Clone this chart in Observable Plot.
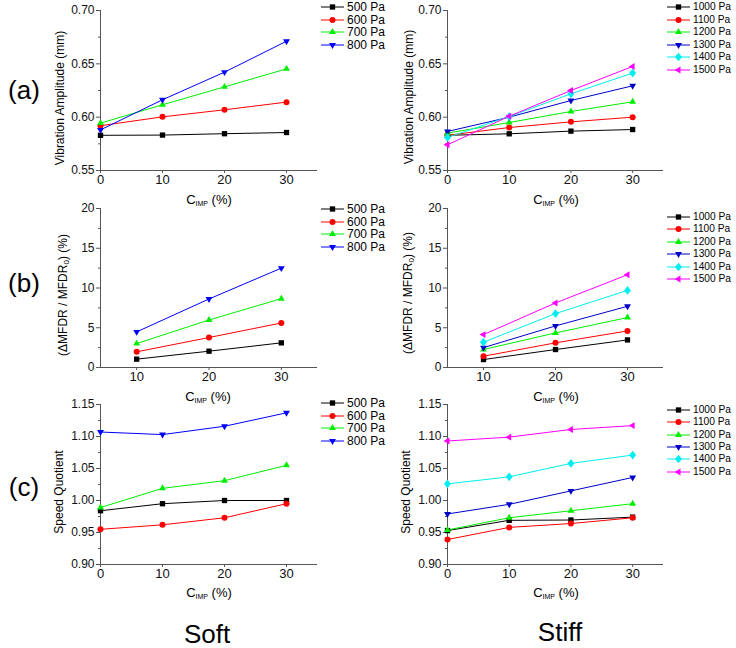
<!DOCTYPE html>
<html><head><meta charset="utf-8">
<script src="https://cdn.jsdelivr.net/npm/d3@7"></script>
<script src="https://cdn.jsdelivr.net/npm/@observablehq/plot@0.6"></script>
<style>
body{margin:0;background:#fff;}
#wrap{position:relative;width:736px;height:648px;font-family:"Liberation Sans",Arial,sans-serif;color:#000;overflow:hidden;background:#fff}
.ylab{position:absolute;white-space:nowrap;font-size:12px;line-height:14px;transform:translate(-50%,-50%) rotate(-90deg);}
.xlab{position:absolute;white-space:nowrap;font-size:13px;line-height:16px;transform:translate(-50%,-50%);}
.xlab sub{font-size:7px;vertical-align:-2px}
.ylab sub{font-size:8px;vertical-align:-2px}
.big{position:absolute;white-space:nowrap;font-size:26px;line-height:24px;transform:translate(-50%,-50%)}
.lrow{position:absolute;height:12px;line-height:12px;white-space:nowrap}
</style></head><body><div id="wrap"></div>
<script>
// ---- data ----
const softPressures = ["500 Pa", "600 Pa", "700 Pa", "800 Pa"];
const stiffPressures = ["1000 Pa", "1100 Pa", "1200 Pa", "1300 Pa", "1400 Pa", "1500 Pa"];
const softColors = ["#000000", "#ff0000", "#00ee00", "#0000ff"];
const stiffColors = ["#000000", "#ff0000", "#00ee00", "#0000c8", "#00eeee", "#ff00ff"];
const cimpFull = [0, 10, 20, 30];
const cimpPartial = [10, 20, 30];

// vibration amplitude (mm)
const ampSoft = [
  [0.583, 0.5832, 0.5845, 0.5856],
  [0.592, 0.6003, 0.6069, 0.6141],
  [0.5944, 0.6116, 0.6284, 0.6453],
  [0.5881, 0.6163, 0.6422, 0.6712]
];
const ampStiff = [
  [0.583, 0.5844, 0.5869, 0.5884],
  [0.583, 0.5903, 0.5956, 0.600],
  [0.585, 0.595, 0.6053, 0.6144],
  [0.5866, 0.600, 0.6156, 0.6294],
  [0.581, 0.6006, 0.6219, 0.6413],
  [0.5741, 0.6009, 0.625, 0.6475]
];
// ΔMFDR / MFDR0 (%)
const mfdrSoft = [
  [1.05, 2.05, 3.1],
  [1.97, 3.77, 5.6],
  [3.01, 5.98, 8.66],
  [4.48, 8.62, 12.5]
];
const mfdrStiff = [
  [1.0, 2.26, 3.47],
  [1.42, 3.1, 4.6],
  [2.26, 4.35, 6.28],
  [2.5, 5.23, 7.7],
  [3.18, 6.78, 9.7],
  [4.14, 8.12, 11.67]
];
// speed quotient
const sqSoft = [
  [0.984, 0.995, 1.0, 1.0],
  [0.955, 0.962, 0.973, 0.995],
  [0.989, 1.019, 1.031, 1.055],
  [1.107, 1.103, 1.116, 1.137]
];
const sqStiff = [
  [0.953, 0.969, 0.9695, 0.974],
  [0.939, 0.958, 0.964, 0.973],
  [0.954, 0.973, 0.984, 0.995],
  [0.979, 0.994, 1.015, 1.036],
  [1.026, 1.037, 1.058, 1.071],
  [1.093, 1.099, 1.111, 1.117]
];

// ticks
const ampTicks = [0.55, 0.60, 0.65, 0.70];
const ampMinor = [0.575, 0.625, 0.675];
const mfdrTicks = [0, 5, 10, 15, 20];
const mfdrMinor = [2.5, 7.5, 12.5, 17.5];
const sqTicks = [0.90, 0.95, 1.00, 1.05, 1.10, 1.15];
const sqMinor = [0.925, 0.975, 1.025, 1.075, 1.125];
const xTicksFull = [0, 10, 20, 30];
const xTicksPartial = [10, 20, 30];

// ---- symbols ----
const s3 = Math.sqrt(3);
function tri(dir) {
  return {draw(ctx, size) {
    const y = 0.85 * Math.sqrt(size / (s3 * 3));
    if (dir === "up") { ctx.moveTo(0, -2 * y); ctx.lineTo(s3 * y, y); ctx.lineTo(-s3 * y, y); }
    else if (dir === "down") { ctx.moveTo(0, 2 * y); ctx.lineTo(-s3 * y, -y); ctx.lineTo(s3 * y, -y); }
    else { ctx.moveTo(-2 * y, 0); ctx.lineTo(y, -s3 * y); ctx.lineTo(y, s3 * y); }
    ctx.closePath();
  }};
}
const diamond = {draw(ctx, size) {
  const h = Math.sqrt(size) * 0.82, w = h * 0.8;
  ctx.moveTo(0, -h); ctx.lineTo(w, 0); ctx.lineTo(0, h); ctx.lineTo(-w, 0); ctx.closePath();
}};
const allSymbols = [d3.symbolSquare, d3.symbolCircle, tri("up"), tri("down"), diamond, tri("left")];

const wrap = document.getElementById("wrap");
const FONT = '"Liberation Sans", Arial, sans-serif';
const R = 3;

function panel(o) {
  const rows = o.names.flatMap((n, i) => o.cimp.map((c, j) => ({series: n, cimp: c, value: o.values[i][j]})));
  const svg = Plot.plot({
    width: o.width, height: o.height,
    marginLeft: o.marginLeft, marginRight: o.width - o.frameRight, marginTop: 10, marginBottom: 25,
    style: {fontFamily: FONT, fontSize: "12px", color: "#111", background: "transparent", overflow: "visible"},
    x: {domain: o.xDomain}, y: {domain: o.yDomain},
    color: {domain: o.names, range: o.colors},
    symbol: {domain: o.names, range: allSymbols.slice(0, o.names.length)},
    marks: [
      Plot.ruleX([o.xDomain[0]], {stroke: "#555", strokeWidth: 1}),
      Plot.ruleY([o.yDomain[0]], {stroke: "#555", strokeWidth: 1}),
      Plot.axisY({ticks: o.yTicks, tickSize: 4, tickPadding: 2, tickFormat: o.yFormat, label: null, stroke: "#555", fill: "#111", fontSize: 12}),
      Plot.axisY({ticks: o.yMinor, tickSize: 2, tickFormat: () => "", label: null, stroke: "#555"}),
      Plot.axisX({ticks: o.xTicks, tickSize: 3, tickPadding: 1, tickFormat: d3.format("d"), label: null, stroke: "#555", fill: "#111", fontSize: 13}),
      Plot.line(rows, {x: "cimp", y: "value", z: "series", stroke: "series", strokeWidth: 1}),
      Plot.dot(rows, {x: "cimp", y: "value", fill: "series", symbol: "series", r: R, stroke: "none"})
    ]
  });
  svg.style.position = "absolute";
  svg.style.left = o.left + "px";
  svg.style.top = o.top + "px";
  wrap.appendChild(svg);

  // legend
  o.names.forEach((n, i) => {
    const row = document.createElement("div");
    row.className = "lrow";
    const cy = o.legTop + o.legStep * i;
    row.style.left = o.legLeft + "px";
    row.style.top = (cy - 6) + "px";
    row.style.fontSize = o.legFont + "px";
    const s = d3.create("svg").attr("width", 24).attr("height", 12)
      .style("position", "absolute").style("left", "0px").style("top", "0px").style("overflow", "visible");
    s.append("line").attr("x1", 0).attr("x2", 23).attr("y1", 6).attr("y2", 6)
      .attr("stroke", o.colors[i]).attr("stroke-width", 1);
    s.append("path").attr("transform", "translate(11.5,6)")
      .attr("d", d3.symbol(allSymbols[i], R * R * Math.PI)())
      .attr("fill", o.colors[i]);
    row.appendChild(s.node());
    const t = document.createElement("span");
    t.textContent = n;
    t.style.position = "absolute"; t.style.left = "26px"; t.style.top = "0px";
    row.appendChild(t);
    wrap.appendChild(row);
  });
}

function addText(cls, html, x, y) {
  const d = document.createElement("div");
  d.className = cls; d.innerHTML = html;
  d.style.left = x + "px"; d.style.top = y + "px";
  wrap.appendChild(d);
}

const fmt2 = d3.format(".2f");
const fmt0 = d3.format("d");
const soft = {left: 0, width: 330, marginLeft: 100, frameRight: 317, legLeft: 321, legFont: 12};
const stiff = {left: 400, width: 273, marginLeft: 47, frameRight: 263, legLeft: 667, legFont: 10.2};

// row a
panel({...soft, top: 0, height: 195, xDomain: [0, 35], xTicks: xTicksFull, yDomain: [0.55, 0.70], yTicks: ampTicks, yMinor: ampMinor, yFormat: fmt2,
  cimp: cimpFull, values: ampSoft, names: softPressures, colors: softColors, legTop: 7, legStep: 12.5});
panel({...stiff, top: 0, height: 195, xDomain: [0, 35], xTicks: xTicksFull, yDomain: [0.55, 0.70], yTicks: ampTicks, yMinor: ampMinor, yFormat: fmt2,
  cimp: cimpFull, values: ampStiff, names: stiffPressures, colors: stiffColors, legTop: 7, legStep: 12.5});
// row b
panel({...soft, top: 198, height: 194, xDomain: [5, 35], xTicks: xTicksPartial, yDomain: [0, 20], yTicks: mfdrTicks, yMinor: mfdrMinor, yFormat: fmt0,
  cimp: cimpPartial, values: mfdrSoft, names: softPressures, colors: softColors, legTop: 209, legStep: 12.5});
panel({...stiff, top: 198, height: 194, xDomain: [5, 35], xTicks: xTicksPartial, yDomain: [0, 20], yTicks: mfdrTicks, yMinor: mfdrMinor, yFormat: fmt0,
  cimp: cimpPartial, values: mfdrStiff, names: stiffPressures, colors: stiffColors, legTop: 217, legStep: 12.4});
// row c
panel({...soft, top: 394, height: 195, xDomain: [0, 35], xTicks: xTicksFull, yDomain: [0.90, 1.15], yTicks: sqTicks, yMinor: sqMinor, yFormat: fmt2,
  cimp: cimpFull, values: sqSoft, names: softPressures, colors: softColors, legTop: 403, legStep: 12.6});
panel({...stiff, top: 394, height: 195, xDomain: [0, 35], xTicks: xTicksFull, yDomain: [0.90, 1.15], yTicks: sqTicks, yMinor: sqMinor, yFormat: fmt2,
  cimp: cimpFull, values: sqStiff, names: stiffPressures, colors: stiffColors, legTop: 410, legStep: 12.3});

// axis titles
const xTitle = "C<sub>IMP</sub> (%)";
[[209, 202], [556, 202], [208, 399], [556, 399], [209, 595], [556, 595]].forEach(([x, y]) => addText("xlab", xTitle, x, y));
addText("ylab", "Vibration Amplitude (mm)", 60, 98);
addText("ylab", "Vibration Amplitude (mm)", 409, 97);
addText("ylab", "(&Delta;MFDR / MFDR<sub>0</sub>) (%)", 65, 295);
addText("ylab", "(&Delta;MFDR / MFDR<sub>0</sub>) (%)", 410, 293);
addText("ylab", "Speed Quotient", 59, 492);
addText("ylab", "Speed Quotient", 406, 492);

// panel letters and column titles
addText("big", "(a)", 24, 90);
addText("big", "(b)", 24, 283);
addText("big", "(c)", 24, 487);
addText("big", "Soft", 207, 634);
addText("big", "Stiff", 560, 632);
</script>
</body></html>
